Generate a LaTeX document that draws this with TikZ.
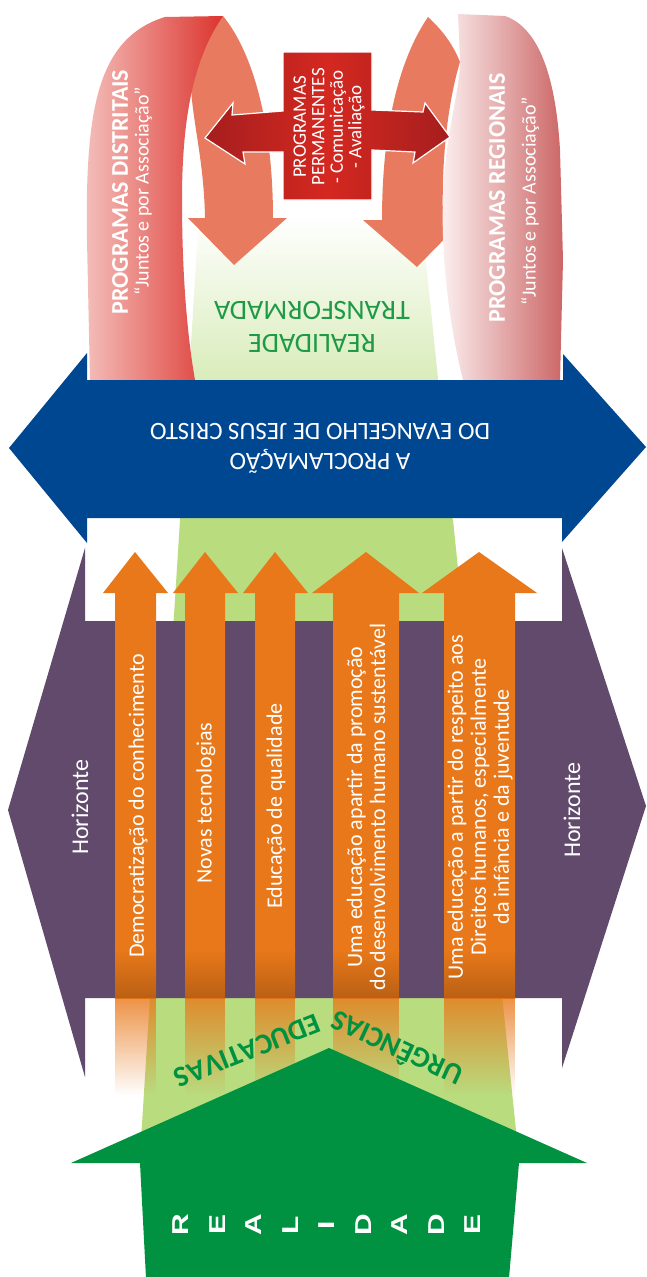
\documentclass[tikz,border=0pt]{standalone}
\usepackage{fontspec}
\setmainfont{Carlito}
\newfontfamily\widefont[FakeStretch=1.3]{Liberation Sans}
\usepackage{tikz}
\usetikzlibrary{decorations.text, fadings}

\definecolor{azul}{RGB}{0,71,145}
\definecolor{roxo}{RGB}{97,74,107}
\definecolor{laranja}{RGB}{232,120,25}
\definecolor{verde}{RGB}{0,146,64}
\definecolor{verdeclaro}{RGB}{185,220,127}
\definecolor{verdetexto}{RGB}{30,154,70}
\definecolor{salmao}{RGB}{232,122,96}
\definecolor{vermelho}{RGB}{212,40,32}
\definecolor{vinho}{RGB}{165,30,30}
\definecolor{rosa}{RGB}{244,190,186}
\definecolor{rosaescuro}{RGB}{220,52,46}
\definecolor{rosaclaro}{RGB}{252,240,240}
\definecolor{rosavelho}{RGB}{204,102,102}

\tikzfading[name=desce, top color=transparent!20, bottom color=transparent!100]

\begin{document}
\begin{tikzpicture}[x=1pt,y=-1pt]
        \begin{scope}[vtext/.style={rotate=90,text=white,align=center,inner sep=0pt},
        ftext/.style={rotate=180,align=center,inner sep=0pt},
        coluna/.style={vtext,font=\fontsize{22}{23}\selectfont},
        horiz/.style={vtext,font=\fontsize{24}{26}\selectfont},
        titulo/.style={vtext,font=\bfseries\fontsize{24}{24}\selectfont},
        subtitulo/.style={vtext,font=\fontsize{20}{20}\selectfont},
        letra/.style={rotate=90,text=white,inner sep=0pt,font=\widefont\bfseries\fontsize{23}{23}\selectfont},
        urgencia/.style={decorate, decoration={text along path, text align=center,
        text={|\bfseries\fontsize{29}{29}\selectfont\color{verde}|#1}}}]
        \useasboundingbox (0,0) rectangle (647,1277);
        \fill[white] (0,0) rectangle (647,1277);
        % luz verde
        \shade[top color=white, bottom color=verdeclaro] (199,215) -- (421,215) -- (453,522) -- (180,522) -- cycle;
        \fill[verdeclaro] (180,520) -- (453,520) -- (517,1140) -- (141,1140) -- cycle;
        % fitas
        \fill[salmao] (223,16) .. controls (255,55) and (273,130) .. (273,218) -- (287,218) -- (234,265) -- (188,218) -- (205,218) .. controls (204,160) and (192,120) .. (191,85) .. controls (192,55) and (205,33) .. (223,16) -- cycle;
        \fill[salmao] (428,17) .. controls (402,55) and (382,120) .. (382,220) -- (363,220) -- (417,267) -- (463,220) -- (443,220) .. controls (441,150) and (450,95) .. (460,62) .. controls (452,42) and (440,28) .. (428,17) -- cycle;
        \shade[left color=rosa, right color=rosaescuro] (90,380) -- (87,240) .. controls (85,110) and (97,38) .. (165,17) -- (223,16) .. controls (196,55) and (182,110) .. (182,200) .. controls (182,280) and (188,340) .. (195,380) -- cycle;
        \shade[left color=rosaclaro, right color=rosavelho] (463,380) .. controls (448,320) and (441,250) .. (443,200) .. controls (445,130) and (460,95) .. (460,60) -- (458,14) -- (505,16) .. controls (540,28) and (556,80) .. (560,150) -- (563,260) -- (560,380) -- cycle;
        \node[titulo] (distritais) at (120,192) {PROGRAMAS DISTRITAIS};
        \node[subtitulo] (distritaissub) at (143,191) {“Juntos e por Associação”};
        \node[titulo] (regionais) at (497,198) {PROGRAMAS REGIONAIS};
        \node[subtitulo] (regionaissub) at (530,201) {“Juntos e por Associação”};
        % programas permanentes
        \shadedraw[left color=vinho, right color=vinho, middle color=vermelho, draw=white, line width=1.2pt]
        (283,52) -- (372,52) -- (372,110) -- (423,112) -- (425,103) -- (450,137) -- (413,163) -- (415,152) -- (372,150) -- (372,200)
        -- (283,200) -- (283,152) -- (243,152) -- (245,164) -- (205,138) -- (233,103) -- (232,115) -- (283,111) -- cycle;
        \node[vtext, font=\fontsize{19}{18.5}\selectfont] (permanentes) at (329,127) {PROGRAMAS\\PERMANENTES\\- Comunicação\\- Avaliação};
        \node[ftext, text=verdetexto, font=\fontsize{28}{33}\selectfont] (transformada) at (312,327) {REALIDADE\\TRANSFORMADA};
        % proclamacao
        \fill[azul] (87,353) -- (9,448) -- (87,543) -- (87,518) -- (562,518) -- (562,542) -- (646,447) -- (563,354) -- (563,380) -- (87,380) -- cycle;
        \node[ftext, text=white, font=\fontsize{25}{30}\selectfont] (proclamacao) at (320,448) {A PROCLAMAÇÃO\\DO EVANGELHO DE JESUS CRISTO};
        % horizonte
        \fill[roxo] (85,548) -- (8,810) -- (85,1077) -- (85,998) -- (562,998) -- (562,1068) -- (646,806) -- (562,548) -- (562,621) -- (85,621) -- cycle;
        \node[horiz] (horizonte1) at (80,807) {Horizonte};
        \node[horiz] (horizonte2) at (572,810) {Horizonte};
        % urgencias
        \foreach \sl/\sr/\hl/\hr/\tx in {115/156/103/168/135, 185/225/173/238/205, 255/295/243/308/275, 333/399/312/419/366, 444/515/422/537/479}{
        \fill[laranja] (\sl,952) -- (\sl,593) -- (\hl,593) -- (\tx,552) -- (\hr,593) -- (\sr,593) -- (\sr,952) -- cycle;
        \shade[top color=laranja, bottom color=laranja!80!black] (\sl,950) rectangle (\sr,998);
        \fill[laranja, path fading=desce] (\sl,998) rectangle (\sr,1095);
        }
        \node[coluna] (democratizacao) at (138,806) {Democratização do conhecimento};
        \node[coluna] (tecnologias) at (206,803) {Novas tecnologias};
        \node[coluna] (qualidade) at (276,806) {Educação de qualidade};
        \node[coluna] (sustentavel) at (366,807) {Uma educação apartir da promoção\\do desenvolvimento humano sustentável};
        \node[coluna] (direitos) at (480,807) {Uma educação a partir do respeito aos\\Direitos humanos, especialmente\\da infância e da juventude};
        % realidade
        \fill[verde] (71,1163) -- (329,1048) -- (587,1163) -- (519,1163) -- (509,1278) -- (146,1278) -- (140,1163) -- cycle;
        \path[urgencia=URGÊNCIAS] (496,1083) -- (306,995);
        \path[urgencia=EDUCATIVAS] (337,1005) -- (151,1079);
        \foreach \l [count=\i from 0] in {R,E,A,L,I,D,A,D,E}
        \node[letra] (letra\i) at ({181+36.5*\i},1225) {\l};
        \end{scope}
\end{tikzpicture}
\end{document}
